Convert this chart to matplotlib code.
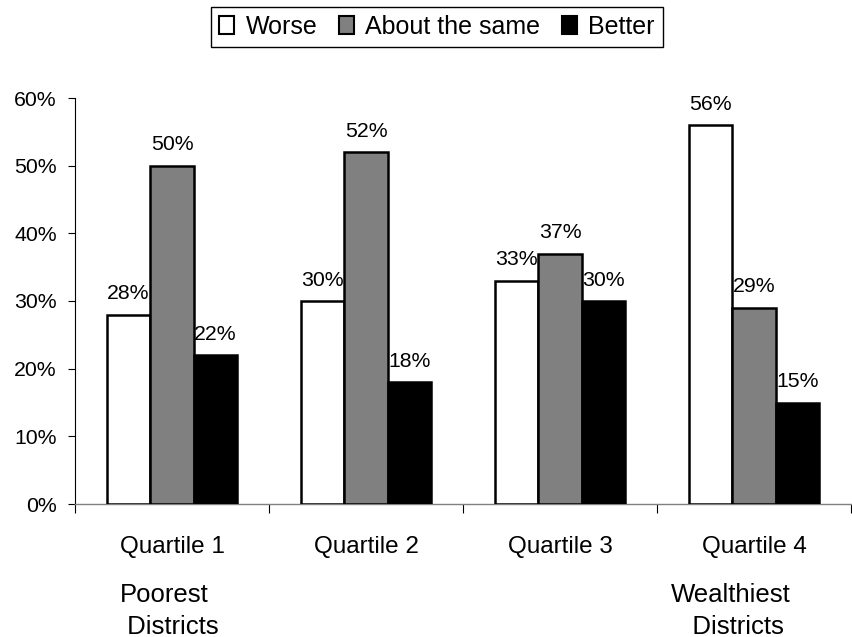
import numpy as np
import matplotlib
matplotlib.use("Agg")
import matplotlib.pyplot as plt
from matplotlib.ticker import FixedLocator

plt.rcParams['font.family'] = ['Liberation Sans', 'DejaVu Sans']

categories = ["Quartile 1", "Quartile 2", "Quartile 3", "Quartile 4"]
series_names = ["Worse", "About the same", "Better"]
worse = [28, 30, 33, 56]
same = [50, 52, 37, 29]
better = [22, 18, 30, 15]
y_ticks = [0, 10, 20, 30, 40, 50, 60]
colors = ["#ffffff", "#808080", "#000000"]

FS_TICK = 15.3
FS_VALUE = 15.3
FS_CAT = 17.5
FS_NOTE = 18.5
FS_LEGEND = 18

fig = plt.figure(figsize=(8.53, 6.37), dpi=100)
ax = fig.add_axes([75 / 853, 133 / 637, 776 / 853, 406 / 637])

x = np.arange(len(categories))
width = 0.225
handles = []
for i, (vals, name, col) in enumerate(zip([worse, same, better], series_names, colors)):
    bars = ax.bar(x + (i - 1) * width, [v / 100 for v in vals], width,
                  color=col, edgecolor="black", linewidth=1.8, label=name, zorder=3)
    handles.append(bars)
    for xi, v in zip(x + (i - 1) * width, vals):
        ax.annotate(f"{v}%", (xi, v / 100), xytext=(0, 11), textcoords="offset points",
                    ha="center", va="baseline", fontsize=FS_VALUE)

ax.set_xlim(-0.5, len(categories) - 0.5)
ax.set_ylim(0, 0.6)

ax.set_yticks([t / 100 for t in y_ticks])
ax.set_yticklabels([f"{t}%" for t in y_ticks], fontsize=FS_TICK)
ax.tick_params(axis="y", direction="out", length=5, width=0.8, pad=8)

ax.set_xticks(x)
ax.set_xticklabels(categories, fontsize=FS_CAT)
ax.tick_params(axis="x", which="major", length=0, pad=23)
ax.xaxis.set_minor_locator(FixedLocator(np.arange(-0.5, len(categories), 1.0)))
ax.tick_params(axis="x", which="minor", direction="out", length=6.5, width=0.8)

for side in ("top", "right"):
    ax.spines[side].set_visible(False)
ax.spines["left"].set_linewidth(0.8)
ax.spines["bottom"].set_linewidth(1.0)
ax.spines["bottom"].set_color("#808080")

# district descriptors below the first and last quartiles
fig.text(120 / 853, 1 - 583 / 637, "Poorest\n Districts", ha="left", va="top",
         fontsize=FS_NOTE, linespacing=1.4)
fig.text(671 / 853, 1 - 583 / 637, "Wealthiest\n   Districts", ha="left", va="top",
         fontsize=FS_NOTE, linespacing=1.4)

leg = fig.legend(handles=handles, labels=series_names, loc="center",
                 bbox_to_anchor=(437 / 853, 1 - 26.5 / 637), ncol=3, fontsize=FS_LEGEND,
                 frameon=True, fancybox=False, edgecolor="black", framealpha=1,
                 handlelength=0.62, handleheight=0.7, handletextpad=0.45,
                 columnspacing=0.85, borderpad=0.32, borderaxespad=0)
leg.get_frame().set_linewidth(1.0)
for h in leg.legend_handles:
    h.set_linewidth(1.5)

fig.savefig("out.png", dpi=100)
